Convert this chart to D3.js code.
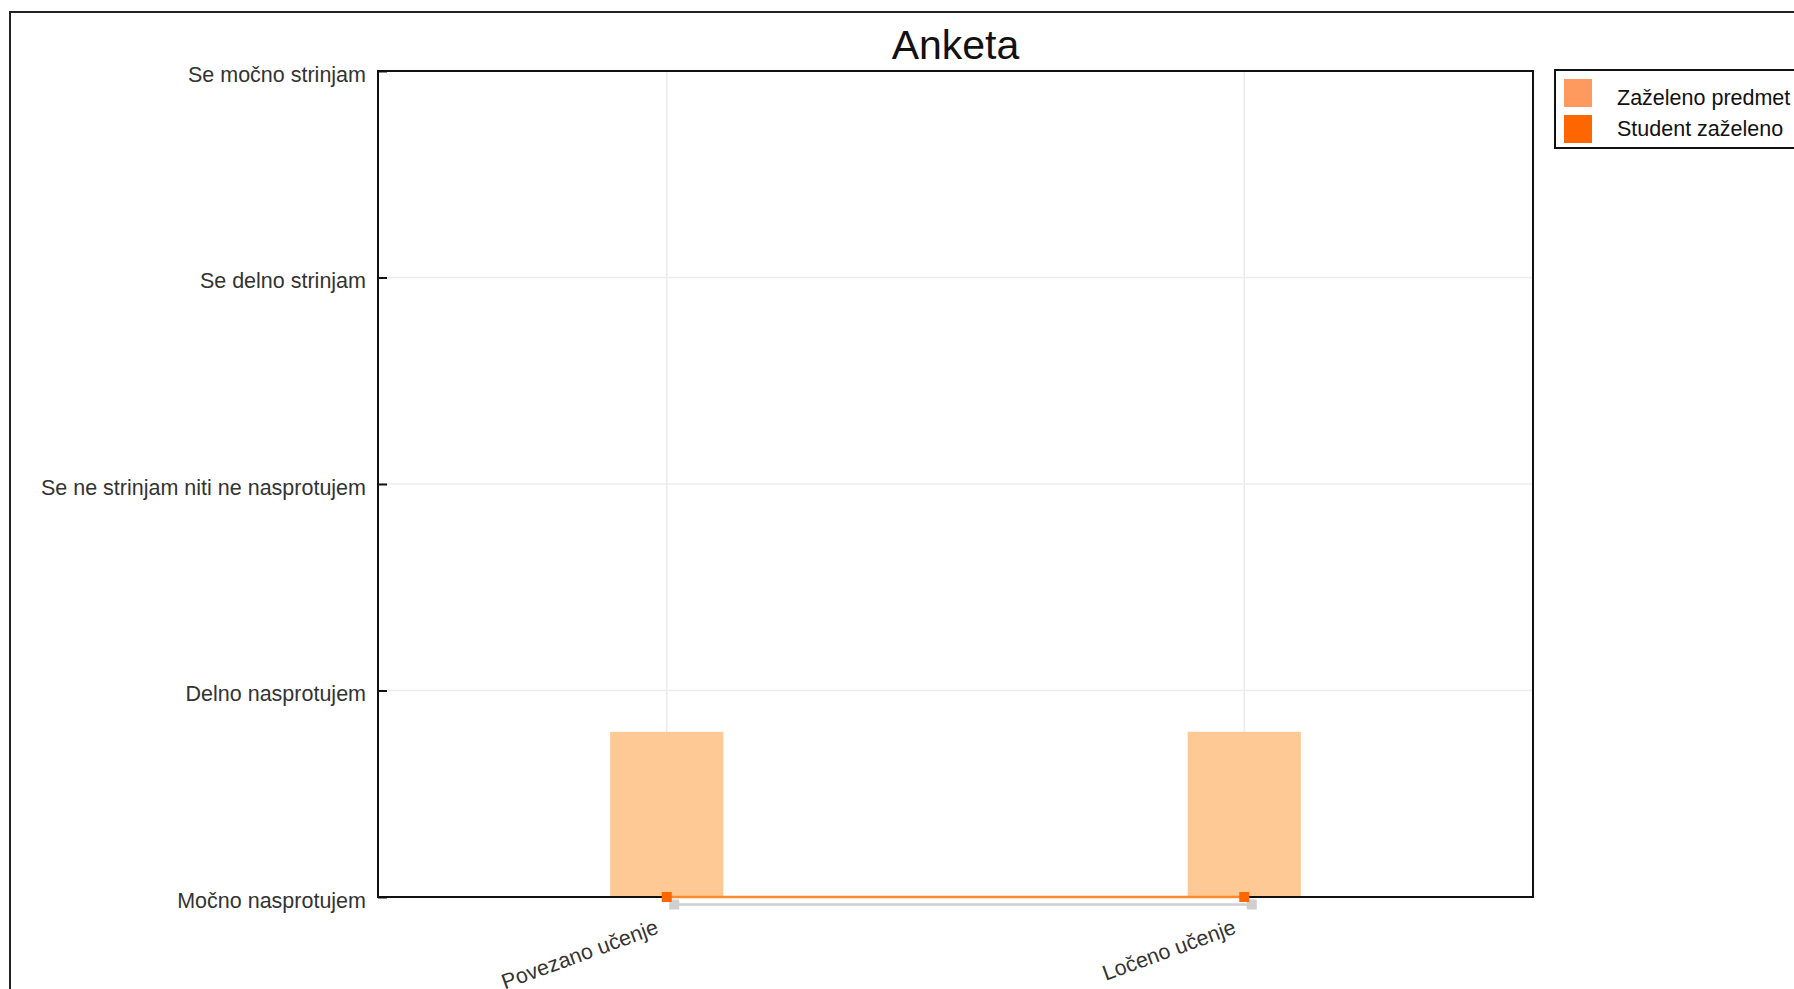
<!DOCTYPE html>
<html><head><meta charset="utf-8">
<script src="https://cdn.jsdelivr.net/npm/d3@7"></script>
<style>
html,body{margin:0;padding:0;background:#fff;overflow:hidden}
text{font-family:"Liberation Sans",Arial,sans-serif}
</style></head>
<body>
<svg id="c" width="1794" height="989"></svg>
<script>
const title = "Anketa";
const categories = ["Povezano učenje", "Ločeno učenje"];
const levelLabels = ["Močno nasprotujem", "Delno nasprotujem", "Se ne strinjam niti ne nasprotujem", "Se delno strinjam", "Se močno strinjam"];
const levelValues = [1, 2, 3, 4, 5];
const seriesNames = ["Zaželeno predmet", "Student zaželeno"];
const predmetValues = [1.8, 1.8];
const studentValues = [1, 1];

const svg = d3.select("#c");
const m = {left: 378, right: 1533, top: 71, bottom: 897};

// outer frame
svg.append("rect").attr("x", 10).attr("y", 12).attr("width", 1900).attr("height", 1100)
  .attr("fill", "none").attr("stroke", "#222").attr("stroke-width", 2);

const x = d3.scalePoint().domain(categories).range([m.left, m.right]).padding(0.5);
const y = d3.scaleLinear().domain([1, 5]).range([m.bottom, m.top]);

// gridlines
svg.append("g").selectAll("line.h").data(levelValues).join("line")
  .attr("x1", m.left).attr("x2", m.right).attr("y1", d => y(d)).attr("y2", d => y(d))
  .attr("stroke", "#ececec").attr("stroke-width", 1.5);
svg.append("g").selectAll("line.v").data(categories).join("line")
  .attr("x1", d => x(d)).attr("x2", d => x(d)).attr("y1", m.top).attr("y2", m.bottom)
  .attr("stroke", "#ececec").attr("stroke-width", 1.5);

// bars
const bw = x.step() * 0.196;
svg.append("g").selectAll("rect").data(categories).join("rect")
  .attr("x", d => x(d) - bw / 2).attr("width", bw)
  .attr("y", (d, i) => y(predmetValues[i]))
  .attr("height", (d, i) => y(1) - y(predmetValues[i]))
  .attr("fill", "#fec994");

// plot border
svg.append("rect").attr("x", m.left).attr("y", m.top).attr("width", m.right - m.left).attr("height", m.bottom - m.top)
  .attr("fill", "none").attr("stroke", "#111").attr("stroke-width", 2);

// y axis (inward ticks)
const yAxis = d3.axisRight(y).tickValues(levelValues).tickSize(9).tickFormat("");
const yg = svg.append("g").attr("transform", `translate(${m.left},0)`).call(yAxis);
yg.select(".domain").remove();
yg.selectAll(".tick line").attr("stroke", "#111").attr("stroke-width", 2);
svg.append("g").selectAll("text").data(levelValues).join("text")
  .attr("x", 366).attr("y", d => y(d)).attr("dy", "0.5em")
  .attr("text-anchor", "end").attr("font-size", 21.5).attr("fill", "#333")
  .text((d, i) => levelLabels[i]);

// x labels
svg.append("g").selectAll("text").data(categories).join("text")
  .attr("transform", d => `translate(${x(d) - 7},${m.bottom + 36}) rotate(-20)`)
  .attr("text-anchor", "end").attr("font-size", 21.5).attr("fill", "#333")
  .text(d => d);

// student series with shadow
const line = d3.line().x((d, i) => x(categories[i])).y(d => y(d));
const sh = svg.append("g").attr("transform", "translate(7.5,7.5)");
sh.append("path").datum(studentValues).attr("d", line).attr("fill", "none")
  .attr("stroke", "#cfcfcf").attr("stroke-width", 2.5);
sh.selectAll("rect").data(studentValues).join("rect")
  .attr("x", (d, i) => x(categories[i]) - 5).attr("y", d => y(d) - 5)
  .attr("width", 10).attr("height", 10).attr("fill", "#cfcfcf");
const sg = svg.append("g");
sg.append("path").datum(studentValues).attr("d", line).attr("fill", "none")
  .attr("stroke", "#ff8a2e").attr("stroke-width", 2.5);
sg.selectAll("rect").data(studentValues).join("rect")
  .attr("x", (d, i) => x(categories[i]) - 5).attr("y", d => y(d) - 5)
  .attr("width", 10).attr("height", 10).attr("fill", "#ff6600");

// title
svg.append("text").attr("x", (m.left + m.right) / 2).attr("y", 59).attr("text-anchor", "middle")
  .attr("font-size", 41).attr("fill", "#111").text(title);

// legend
const lg = svg.append("g");
lg.append("rect").attr("x", 1555).attr("y", 70).attr("width", 400).attr("height", 78)
  .attr("fill", "#fff").attr("stroke", "#111").attr("stroke-width", 2);
const legendColors = ["#ff9a5e", "#ff6600"];
lg.selectAll("rect.sw").data(seriesNames).join("rect").attr("class", "sw")
  .attr("x", 1564).attr("y", (d, i) => 79 + i * 36).attr("width", 28).attr("height", 28)
  .attr("fill", (d, i) => legendColors[i]);
lg.selectAll("text").data(seriesNames).join("text")
  .attr("x", 1617).attr("y", (d, i) => 97.5 + i * 31).attr("dy", "0.35em")
  .attr("font-size", 21.5).attr("fill", "#111").text(d => d);
</script>
</body></html>
